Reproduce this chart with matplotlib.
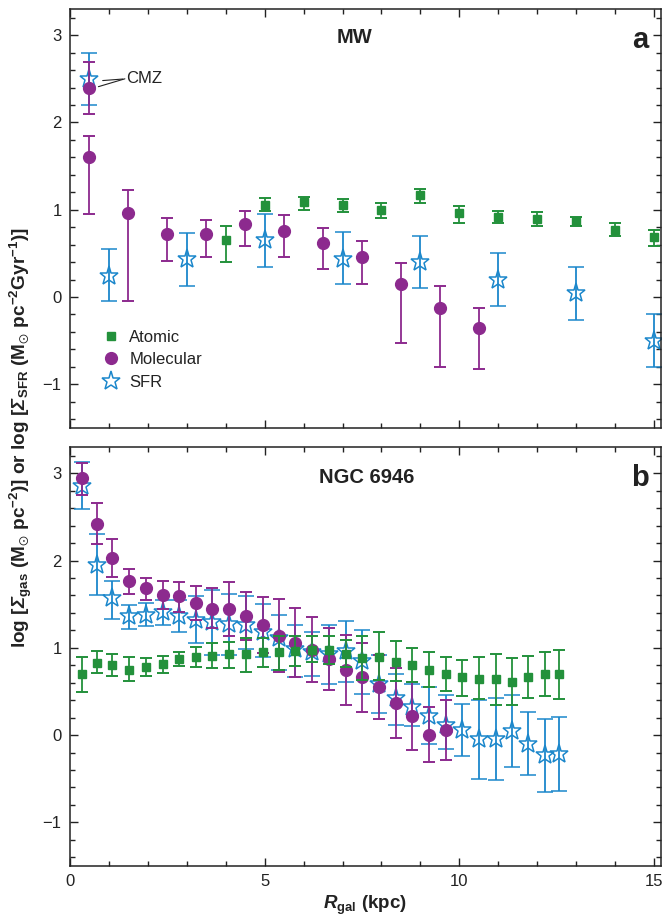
"""Gas and SFR surface density profiles: MW (a) and NGC 6946 (b)."""

import matplotlib

matplotlib.use("Agg")
import matplotlib.pyplot as plt
from matplotlib.lines import Line2D
from matplotlib.ticker import MultipleLocator
import numpy as np

plt.rcParams["font.family"] = ["Liberation Sans", "DejaVu Sans"]
plt.rcParams["mathtext.fontset"] = "custom"
plt.rcParams["mathtext.default"] = "regular"
plt.rcParams["mathtext.rm"] = "Liberation Sans:bold:italic"
plt.rcParams["mathtext.it"] = "Liberation Sans:bold:italic"
plt.rcParams["mathtext.bf"] = "Liberation Sans:bold"
plt.rcParams["mathtext.fallback"] = "stixsans"

GREEN = "#23913b"
PURPLE = "#8c2a8e"
BLUE = "#1b87cb"
TEXT = "#222222"

# ---- panel a: Milky Way ----
r_mw_atomic = [4, 5, 6, 7, 8, 9, 10, 11, 12, 13, 14, 15]
atomic_mw = [0.65, 1.06, 1.09, 1.06, 1.00, 1.17, 0.96, 0.92, 0.89, 0.87, 0.77, 0.69]
atomic_mw_lo = [0.40, 0.98, 1.00, 0.97, 0.90, 1.08, 0.85, 0.85, 0.81, 0.81, 0.70, 0.59]
atomic_mw_hi = [0.81, 1.13, 1.15, 1.12, 1.08, 1.24, 1.04, 0.99, 0.97, 0.92, 0.85, 0.77]

r_mw_mol = [0.5, 0.5, 1.5, 2.5, 3.5, 4.5, 5.5, 6.5, 7.5, 8.5, 9.5, 10.5]
mol_mw = [2.40, 1.60, 0.96, 0.72, 0.72, 0.84, 0.76, 0.62, 0.46, 0.15, -0.12, -0.35]
mol_mw_lo = [2.10, 0.95, -0.05, 0.41, 0.46, 0.59, 0.46, 0.32, 0.15, -0.53, -0.80, -0.83]
mol_mw_hi = [2.69, 1.84, 1.23, 0.90, 0.88, 0.99, 0.94, 0.79, 0.64, 0.39, 0.13, -0.13]

r_mw_sfr = [0.5, 1, 3, 5, 7, 9, 11, 13, 15]
sfr_mw = [2.50, 0.24, 0.44, 0.65, 0.44, 0.40, 0.20, 0.05, -0.50]
sfr_mw_lo = [2.20, -0.05, 0.13, 0.34, 0.15, 0.10, -0.10, -0.26, -0.80]
sfr_mw_hi = [2.80, 0.55, 0.73, 0.95, 0.75, 0.70, 0.50, 0.34, -0.20]

# ---- panel b: NGC 6946 ----
r_ngc = [0.30, 0.70, 1.09, 1.52, 1.95, 2.38, 2.81, 3.24, 3.66, 4.09,
         4.52, 4.95, 5.36, 5.79, 6.22, 6.65, 7.08, 7.51, 7.94, 8.37,
         8.79, 9.22, 9.65, 10.08, 10.50, 10.93, 11.36, 11.77, 12.21, 12.57]

atomic_ngc = [0.70, 0.83, 0.80, 0.75, 0.78, 0.81, 0.87, 0.89, 0.91, 0.93,
              0.93, 0.95, 0.95, 0.96, 0.98, 0.97, 0.93, 0.88, 0.89, 0.84,
              0.80, 0.75, 0.70, 0.66, 0.64, 0.64, 0.61, 0.67, 0.70, 0.70]
atomic_ngc_lo = [0.49, 0.71, 0.68, 0.62, 0.68, 0.71, 0.79, 0.78, 0.77, 0.77,
                 0.72, 0.78, 0.74, 0.79, 0.84, 0.81, 0.78, 0.63, 0.63, 0.62,
                 0.61, 0.55, 0.50, 0.45, 0.41, 0.34, 0.35, 0.43, 0.45, 0.41]
atomic_ngc_hi = [0.89, 0.96, 0.93, 0.89, 0.88, 0.91, 0.95, 1.01, 1.06, 1.07,
                 1.11, 1.11, 1.13, 1.14, 1.14, 1.13, 1.09, 1.13, 1.18, 1.08,
                 1.00, 0.95, 0.89, 0.86, 0.89, 0.93, 0.88, 0.91, 0.95, 0.98]

mol_ngc = [2.94, 2.42, 2.03, 1.76, 1.68, 1.61, 1.59, 1.51, 1.45, 1.44,
           1.36, 1.26, 1.14, 1.06, 0.98, 0.87, 0.75, 0.66, 0.55, 0.37,
           0.22, 0.00, 0.06]
mol_ngc_lo = [2.75, 2.19, 1.81, 1.62, 1.55, 1.45, 1.41, 1.32, 1.23, 1.13,
              1.09, 0.94, 0.72, 0.66, 0.61, 0.52, 0.35, 0.27, 0.18, -0.03,
              -0.17, -0.31, -0.28]
mol_ngc_hi = [3.12, 2.66, 2.25, 1.90, 1.80, 1.76, 1.75, 1.71, 1.68, 1.75,
              1.64, 1.58, 1.56, 1.46, 1.35, 1.23, 1.15, 1.06, 0.92, 0.77,
              0.61, 0.32, 0.40]

sfr_ngc = [2.85, 1.95, 1.57, 1.36, 1.38, 1.41, 1.36, 1.32, 1.30, 1.27,
           1.26, 1.18, 1.11, 0.99, 0.95, 0.93, 0.96, 0.85, 0.59, 0.42,
           0.32, 0.22, 0.11, 0.06, -0.05, -0.04, 0.05, -0.10, -0.23, -0.22]
sfr_ngc_lo = [2.59, 1.61, 1.33, 1.21, 1.25, 1.26, 1.18, 1.05, 0.92, 0.92,
              0.99, 0.90, 0.74, 0.67, 0.68, 0.59, 0.61, 0.47, 0.25, 0.11,
              0.10, -0.10, -0.16, -0.24, -0.50, -0.51, -0.37, -0.46, -0.65, -0.64]
sfr_ngc_hi = [3.13, 2.30, 1.77, 1.49, 1.51, 1.55, 1.55, 1.59, 1.66, 1.62,
              1.59, 1.50, 1.38, 1.26, 1.18, 1.26, 1.31, 1.20, 0.92, 0.70,
              0.58, 0.55, 0.46, 0.36, 0.40, 0.43, 0.46, 0.26, 0.18, 0.21]


def yerr(vals, lo, hi):
    v = np.asarray(vals)
    return [v - np.asarray(lo), np.asarray(hi) - v]


def draw_sfr(ax, r, v, lo, hi):
    ax.errorbar(r, v, yerr=yerr(v, lo, hi), fmt="*", ms=14, mfc="none",
                mec=BLUE, mew=1.1, ecolor=BLUE, elinewidth=1.3,
                capsize=6, capthick=1.6, zorder=2)


def draw_mol(ax, r, v, lo, hi):
    ax.errorbar(r, v, yerr=yerr(v, lo, hi), fmt="o", ms=8.5, color=PURPLE,
                ecolor=PURPLE, elinewidth=1.3, capsize=4.5, capthick=1.4,
                zorder=3)


def draw_atomic(ax, r, v, lo, hi):
    ax.errorbar(r, v, yerr=yerr(v, lo, hi), fmt="s", ms=6, color=GREEN,
                ecolor=GREEN, elinewidth=1.3, capsize=4, capthick=1.4,
                zorder=4)


def style_axes(ax, show_xlabels):
    ax.set_xlim(0, 15.18)
    ax.set_ylim(-1.5, 3.3)
    ax.xaxis.set_major_locator(MultipleLocator(5))
    ax.xaxis.set_minor_locator(MultipleLocator(1))
    ax.yaxis.set_major_locator(MultipleLocator(1))
    ax.yaxis.set_minor_locator(MultipleLocator(0.2))
    ax.tick_params(which="both", direction="in", top=True, right=True,
                   width=1.0, color=TEXT, labelsize=12, labelcolor=TEXT)
    ax.tick_params(which="major", length=6, pad=6)
    ax.tick_params(which="minor", length=3.5)
    ax.tick_params(axis="x", labelbottom=show_xlabels)
    for s in ax.spines.values():
        s.set_linewidth(1.1)
        s.set_color(TEXT)


fig = plt.figure(figsize=(6.69, 9.17), dpi=100)
ax_a = fig.add_axes([0.1046, 0.5333, 0.8834, 0.4569])
ax_b = fig.add_axes([0.1046, 0.0556, 0.8834, 0.4569])

# panel a
draw_sfr(ax_a, r_mw_sfr, sfr_mw, sfr_mw_lo, sfr_mw_hi)
draw_mol(ax_a, r_mw_mol, mol_mw, mol_mw_lo, mol_mw_hi)
draw_atomic(ax_a, r_mw_atomic, atomic_mw, atomic_mw_lo, atomic_mw_hi)
style_axes(ax_a, False)
ax_a.text(7.3, 2.97, "MW", ha="center", va="center", fontsize=14.5,
          fontweight="bold", color=TEXT)
ax_a.text(14.65, 2.95, "a", ha="center", va="center", fontsize=21,
          fontweight="bold", color=TEXT)
ax_a.annotate("CMZ", xy=(0.84, 2.48), xytext=(1.43, 2.5), fontsize=12,
              color=TEXT, ha="left", va="center",
              arrowprops=dict(arrowstyle="-", color=TEXT, lw=0.8,
                              shrinkA=0, shrinkB=0, relpos=(0, 0.5)))
ax_a.annotate("", xy=(0.73, 2.41), xytext=(1.41, 2.5),
              arrowprops=dict(arrowstyle="-", color=TEXT, lw=0.8,
                              shrinkA=0, shrinkB=0))

handles = [
    Line2D([], [], ls="none", marker="s", ms=6, color=GREEN),
    Line2D([], [], ls="none", marker="o", ms=8.5, color=PURPLE),
    Line2D([], [], ls="none", marker="*", ms=14, mfc="none", mec=BLUE, mew=1.1),
]
leg = ax_a.legend(handles, ["Atomic", "Molecular", "SFR"], loc="upper left",
                  bbox_to_anchor=(0.055, 0.235), frameon=False, fontsize=12,
                  handlelength=1.0, handletextpad=0.6, labelspacing=0.45,
                  borderpad=0, borderaxespad=0)
for t in leg.get_texts():
    t.set_color(TEXT)

# panel b
draw_sfr(ax_b, r_ngc, sfr_ngc, sfr_ngc_lo, sfr_ngc_hi)
draw_mol(ax_b, r_ngc[:len(mol_ngc)], mol_ngc, mol_ngc_lo, mol_ngc_hi)
draw_atomic(ax_b, r_ngc, atomic_ngc, atomic_ngc_lo, atomic_ngc_hi)
style_axes(ax_b, True)
ax_b.text(7.63, 2.95, "NGC 6946", ha="center", va="center", fontsize=14.5,
          fontweight="bold", color=TEXT)
ax_b.text(14.65, 2.95, "b", ha="center", va="center", fontsize=21,
          fontweight="bold", color=TEXT)
ax_b.set_xlabel(r"$\mathit{R}_{gal}$ (kpc)", fontsize=13.5, fontweight="bold",
                color=TEXT, labelpad=3)

fig.text(0.031, 0.523,
         r"log [$\mathit{\Sigma}_{gas}$ (M$_{\odot}$ pc$^{-2}$)] or "
         r"log [$\mathit{\Sigma}_{SFR}$ (M$_{\odot}$ pc$^{-2}$Gyr$^{-1}$)]",
         rotation=90, ha="center", va="center", fontsize=13.7,
         fontweight="bold", color=TEXT)

fig.savefig("out.png", dpi=100)
